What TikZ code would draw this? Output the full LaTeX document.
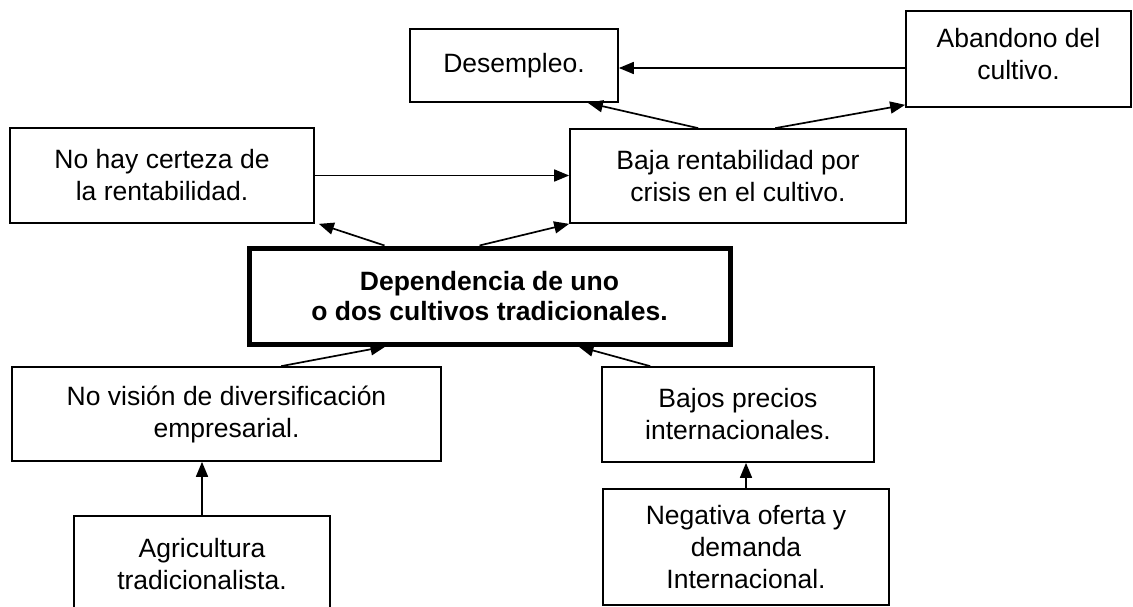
\documentclass[tikz,border=0pt]{standalone}
\usepackage{fontspec}
\setmainfont{Liberation Sans}
\usetikzlibrary{arrows.meta}
\begin{document}
\begin{tikzpicture}[x=1pt,y=-1pt,
  box/.style={draw, line width=1.7pt, align=center, inner sep=0pt,
    font=\fontsize{26.5}{32}\selectfont},
  mainbox/.style={box, line width=5pt, font=\fontsize{26.5}{30}\selectfont\bfseries},
  arr/.style={line width=1.7pt, -{Triangle[length=15pt,width=12pt]}}]
\useasboundingbox (0,0) rectangle (1133,607);
\begin{scope}
\clip (0,0) rectangle (1133,607);
\node[box, minimum width=208pt, minimum height=73pt] (des) at (514,65.5) {Desempleo.};
\node[box, minimum width=225pt, minimum height=96pt] (aba) at (1018.5,59) {Abandono del\\cultivo.\\[-21pt]\mbox{}};
\node[box, minimum width=304pt, minimum height=95pt] (nohay) at (162,175.5) {No hay certeza de\\la rentabilidad.};
\node[box, minimum width=336pt, minimum height=94pt] (baja) at (738,176) {Baja rentabilidad por\\crisis en el cultivo.};
\node[mainbox, minimum width=481pt, minimum height=96pt] (dep) at (489.5,296) {Dependencia de uno\\o dos cultivos tradicionales.};
\node[box, minimum width=429pt, minimum height=94pt] (novis) at (226.5,414) {No visión de diversificación\\empresarial.};
\node[box, minimum width=272pt, minimum height=95pt] (bajos) at (738,414.5) {Bajos precios\\internacionales.};
\node[box, minimum width=256pt, minimum height=96pt] (agri) at (202,564) {Agricultura\\tradicionalista.};
\node[box, minimum width=286pt, minimum height=116pt] (neg) at (746,547) {Negativa oferta y\\demanda\\Internacional.};
\coordinate (d1) at ([yshift=-2.5pt]des.east);
\draw[arr] (d1 -| aba.west) -- (d1);
\draw[arr] ([xshift=129pt]baja.north west) -- ([xshift=-31pt]des.south east);
\draw[arr] ([xshift=206pt]baja.north west) -- ([yshift=3pt]aba.south west);
\draw[arr] (nohay.east) -- (nohay.east -| baja.west);
\draw[arr] ([xshift=138pt]dep.north west) -- ([xshift=4pt]nohay.south east);
\draw[arr] ([xshift=233pt]dep.north west) -- (baja.south west);
\draw[arr] ([xshift=270pt]novis.north west) -- ([xshift=139pt]dep.south west);
\draw[arr] ([xshift=49pt]bajos.north west) -- ([xshift=332pt]dep.south west);
\draw[arr] (agri.north) -- (agri.north |- novis.south);
\draw[arr] (neg.north) -- (neg.north |- bajos.south);
\end{scope}
\end{tikzpicture}
\end{document}
